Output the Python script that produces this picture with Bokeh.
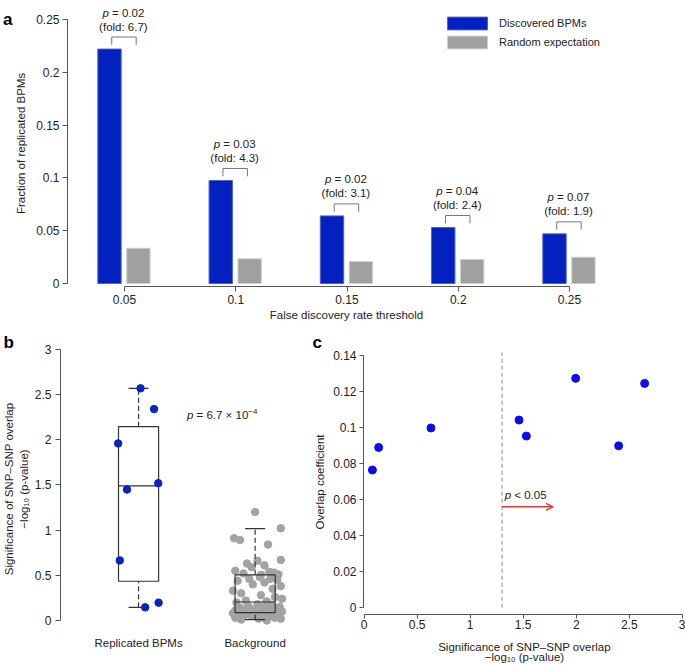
from math import log10

from bokeh.plotting import figure
from bokeh.models import (ColumnDataSource, Range1d, FixedTicker, Legend, LegendItem,
                          Label, Arrow, OpenHead, LinearAxis, Title)
from bokeh.layouts import column, row
from bokeh.transform import dodge
from bokeh.embed import file_html
from bokeh.resources import INLINE
from bokeh.core.properties import value

FONT = "Liberation Sans"

# ---------------- data: panel a ----------------
thresholds = ["0.05", "0.1", "0.15", "0.2", "0.25"]
discovered = [0.222, 0.0975, 0.064, 0.053, 0.047]
random_expectation = [0.0334, 0.0234, 0.0208, 0.0227, 0.0249]
p_values_a = ["0.02", "0.03", "0.02", "0.04", "0.07"]
fold_changes = ["6.7", "4.3", "3.1", "2.4", "1.9"]
ya_ticks = [0, 0.05, 0.1, 0.15, 0.2, 0.25]
ya_labels = ["0", "0.05", "0.1", "0.15", "0.2", "0.25"]

# ---------------- data: panel b ----------------
groups = ["Replicated BPMs", "Background"]
replicated_sig = [2.57, 2.34, 1.96, 1.45, 1.52, 0.665, 0.145, 0.197]
replicated_jitter = [0.017, 0.133, -0.175, -0.099, 0.169, -0.161, 0.057, 0.172]
background_sig = [1.20, 1.02, 0.91, 0.89, 0.84, 0.67, 0.66, 0.63, 0.61, 0.59, 0.55, 0.54, 0.53, 0.52, 0.51, 0.505,
                  0.48, 0.46, 0.46, 0.45, 0.44, 0.42, 0.40, 0.38, 0.35, 0.33, 0.30, 0.28, 0.26, 0.24, 0.22, 0.21,
                  0.20, 0.19, 0.18, 0.17, 0.16, 0.15, 0.14, 0.13, 0.13, 0.12, 0.11, 0.11, 0.10, 0.10, 0.09, 0.09,
                  0.08, 0.08, 0.07, 0.07, 0.06, 0.06, 0.05, 0.05, 0.04, 0.04, 0.03, 0.03, 0.02, 0.02, 0.01, 0.00]
background_jitter = [0.00, 0.22, -0.18, -0.13, 0.11, 0.22, 0.02, -0.07, 0.08, -0.03, -0.17, 0.12, 0.16, -0.10, 0.20, 0.05,
                     0.04, -0.05, 0.13, 0.19, -0.15, 0.08, -0.02, 0.22, 0.15, -0.19, -0.12, 0.05, 0.17, 0.23, -0.08, 0.10,
                     -0.16, 0.09, 0.02, 0.14, -0.06, 0.21, -0.13, 0.06, 0.17, -0.02, 0.11, -0.17, 0.23, -0.09, 0.03, 0.19,
                     -0.19, 0.15, -0.14, 0.08, 0.20, -0.04, 0.00, 0.13, -0.10, 0.06, 0.17, -0.17, 0.03, 0.22, -0.12, 0.10]
box_lo = [0.145, 0.008]
box_q1 = [0.434, 0.086]
box_median = [1.489, 0.204]
box_q3 = [2.146, 0.505]
box_hi = [2.57, 1.017]
p_value_b = ("6.7", "\u22124")
yb_ticks = [0, 0.5, 1, 1.5, 2, 2.5, 3]
yb_labels = ["0", "0.5", "1", "1.5", "2", "2.5", "3"]

# ---------------- data: panel c ----------------
significance_c = [0.079, 0.138, 0.631, 1.461, 1.530, 1.995, 2.400, 2.645]
overlap_coefficient = [0.0764, 0.0889, 0.0997, 0.1041, 0.0952, 0.1272, 0.0898, 0.1244]
p_threshold = 0.05
xc_ticks = [0, 0.5, 1, 1.5, 2, 2.5, 3]
xc_labels = ["0", "0.5", "1", "1.5", "2", "2.5", "3"]
yc_ticks = [0, 0.02, 0.04, 0.06, 0.08, 0.1, 0.12, 0.14]
yc_labels = ["0", "0.02", "0.04", "0.06", "0.08", "0.1", "0.12", "0.14"]

SIG_TITLE = "Significance of SNP\u2013SNP overlap\n\u2212log\u2081\u2080 (p-value)"

# ---------------- helpers ----------------
AW = {' ': 278, '(': 333, ')': 333, '-': 333, '\u2212': 584, '=': 584, '\u00d7': 584, '<': 584,
      '.': 278, ':': 278, 'p': 556, 'l': 222, 'o': 556, 'g': 556, 'v': 500, 'a': 556, 'u': 556,
      'e': 556, 'f': 278, 'd': 556, 'i': 222, 'c': 500, 's': 500, 'r': 333, 'n': 556, 't': 278}


def tw(s, size):
    return sum(AW.get(ch, 556) for ch in s) * size / 1000.0


AX = "#555555"
TXT = "#222222"


def style_axis(ax, tick_out=5, standoff=3):
    ax.axis_line_color = AX
    ax.major_tick_line_color = AX
    ax.major_tick_in = 0
    ax.major_tick_out = tick_out
    ax.minor_tick_line_color = None
    ax.major_label_text_font = FONT
    ax.major_label_text_font_size = "12px"
    ax.major_label_text_color = TXT
    ax.major_label_standoff = standoff
    ax.axis_label_text_font = FONT
    ax.axis_label_text_font_size = "11.5px"
    ax.axis_label_text_font_style = "normal"
    ax.axis_label_text_color = TXT


def base_fig(w, h, xr, yr, left, bottom, right=0):
    f = figure(width=w, height=h, x_range=Range1d(*xr), y_range=Range1d(*yr),
               output_backend="svg", toolbar_location=None,
               min_border_left=left, min_border_right=right, min_border_top=0,
               min_border_bottom=bottom, frame_align=False)
    f.grid.visible = False
    f.outline_line_color = None
    f.background_fill_color = "white"
    f.border_fill_color = "white"
    return f


def letter_title(f, txt, offset):
    f.add_layout(Title(text=txt, align="left", offset=offset, standoff=-5, text_font=FONT,
                       text_font_size="17px", text_font_style="bold", text_color="black"), "above")


# ================= panel a =================
HA = 333
pa = base_fig(685, HA, (0.4876, 5.503), (-0.00284, 0.268), 67, 47, right=60)
cat_x = [i + 1 for i in range(len(thresholds))]
src_a = ColumnDataSource(dict(x=cat_x, disc=discovered, rnd=random_expectation))
BLUE_A = "#0321BF"
r_disc = pa.vbar(x=dodge("x", -0.135), top="disc", bottom=0, width=0.21, source=src_a,
                 fill_color=BLUE_A, line_color="#4A62D6", line_width=1)
r_rand = pa.vbar(x=dodge("x", 0.125), top="rnd", bottom=0, width=0.21, source=src_a,
                 fill_color="#A0A0A0", line_color="#CFCFCF", line_width=1)

# brackets
br_xs, br_ys = [], []
for c, d in zip(cat_x, discovered):
    br_xs.append([c - 0.115, c - 0.115, c + 0.105, c + 0.105])
    br_ys.append([d + 0.0040, d + 0.0114, d + 0.0114, d + 0.0040])
pa.multi_line(xs=br_xs, ys=br_ys, line_color="#777777", line_width=1)

FS_A = 11.5
ann = dict(tx=[], ty=[], p_off=[], rest=[], rest_off=[], fold=[])
for c, d, pv, fc in zip(cat_x, discovered, p_values_a, fold_changes):
    rest = "= " + pv
    total = tw("p ", FS_A) + tw(rest, FS_A)
    ann["tx"].append(c - 0.01)
    ann["ty"].append(d + 0.0114)
    ann["p_off"].append(-total / 2)
    ann["rest"].append(rest)
    ann["rest_off"].append(-total / 2 + tw("p ", FS_A))
    ann["fold"].append("(fold: " + fc + ")")
src_ann = ColumnDataSource(ann)
common_t = dict(text_font=value(FONT), text_font_size="11.5px", text_color=TXT, text_baseline="middle")
pa.text(x="tx", y="ty", text="fold", source=src_ann, y_offset=-10.5, text_align="center", **common_t)
pa.text(x="tx", y="ty", text=value("p"), source=src_ann, x_offset="p_off", y_offset=-24.5,
        text_align="left", text_font_style="italic", **common_t)
pa.text(x="tx", y="ty", text="rest", source=src_ann, x_offset="rest_off", y_offset=-24.5,
        text_align="left", **common_t)

xa = pa.xaxis[0]
style_axis(xa, 5, 3)
xa.ticker = FixedTicker(ticks=cat_x)
xa.major_label_overrides = {c: t for c, t in zip(cat_x, thresholds)}
xa.bounds = (cat_x[0], cat_x[-1])
xa.axis_label = "False discovery rate threshold"
xa.axis_label_standoff = 2
ya = pa.yaxis[0]
style_axis(ya, 5, 3)
ya.ticker = FixedTicker(ticks=ya_ticks)
ya.major_label_overrides = {t: l for t, l in zip(ya_ticks, ya_labels)}
ya.bounds = (ya_ticks[0], ya_ticks[-1])
ya.axis_label = "Fraction of replicated BPMs"
ya.axis_label_standoff = 6

# panel letter "a": an unlined extra left axis carrying a single label
Y_LETTER_A = 0.2678
letter_axis = LinearAxis(ticker=FixedTicker(ticks=[Y_LETTER_A]), major_label_overrides={Y_LETTER_A: "a"},
                         axis_line_color=None, major_tick_line_color=None, minor_tick_line_color=None,
                         major_tick_in=0, major_tick_out=0, major_label_standoff=0,
                         major_label_text_font=FONT, major_label_text_font_size="17px",
                         major_label_text_font_style="bold", major_label_text_color="black")
pa.add_layout(letter_axis, "left")

legend = Legend(items=[LegendItem(label="Discovered BPMs", renderers=[r_disc]),
                       LegendItem(label="Random expectation", renderers=[r_rand])],
                location=(375, 236), glyph_width=50, glyph_height=16, label_height=16,
                label_text_font=FONT, label_text_font_size="11px", label_text_color=TXT,
                label_standoff=7, spacing=3, padding=0, margin=0,
                border_line_color=None, background_fill_alpha=0)
pa.add_layout(legend)

# ================= panel b =================
HB = 332
pb = base_fig(305, HB, (0.3305, 2.432), (-0.0892, 3.0), 57, 37)
letter_title(pb, "b", -57)
box_x = [1, 2]
bg_x = [2 + j for j in background_jitter]
pb.scatter(x=bg_x, y=background_sig, size=7.5, fill_color="#A3A3A3", line_color="#A3A3A3")
half_w = 0.172
pb.quad(left=[c - half_w for c in box_x], right=[c + half_w for c in box_x],
        bottom=box_q1, top=box_q3, fill_color=None, line_color="#333333", line_width=1.2)
pb.segment(x0=[c - half_w for c in box_x], x1=[c + half_w for c in box_x],
           y0=box_median, y1=box_median, line_color="#333333", line_width=1.2)
pb.segment(x0=box_x, x1=box_x, y0=box_q3, y1=box_hi, line_color="#333333", line_width=1.2, line_dash="5 3")
pb.segment(x0=box_x, x1=box_x, y0=box_lo, y1=box_q1, line_color="#333333", line_width=1.2, line_dash="5 3")
pb.segment(x0=[c - half_w / 2 for c in box_x], x1=[c + half_w / 2 for c in box_x],
           y0=box_hi, y1=box_hi, line_color="#333333", line_width=1.2)
pb.segment(x0=[c - half_w / 2 for c in box_x], x1=[c + half_w / 2 for c in box_x],
           y0=box_lo, y1=box_lo, line_color="#333333", line_width=1.2)
rep_x = [1 + j for j in replicated_jitter]
pb.scatter(x=rep_x, y=replicated_sig, size=7.5, fill_color="#0A24C4", line_color="#0A24C4")

xb = pb.xaxis[0]
style_axis(xb, 0, 8)
xb.axis_line_color = None
xb.major_tick_line_color = None
xb.ticker = FixedTicker(ticks=box_x)
xb.major_label_overrides = {c: g for c, g in zip(box_x, groups)}
xb.major_label_text_font_size = "11.5px"
yb = pb.yaxis[0]
style_axis(yb, 5, 4)
yb.ticker = FixedTicker(ticks=yb_ticks)
yb.major_label_overrides = {t: l for t, l in zip(yb_ticks, yb_labels)}
yb.bounds = (yb_ticks[0], yb_ticks[-1])
yb.axis_label = SIG_TITLE
yb.axis_label_standoff = 2

lab_kw = dict(text_font=FONT, text_font_size="11.5px", text_color=TXT, text_baseline="middle")
# p-value annotation in panel b
pb_x, pb_y = 1.415, 2.27
off = 0
for t, s, dy, st in [("p", 11.5, 0, "italic"), ("= " + p_value_b[0] + " \u00d7 10", 11.5, 0, "normal"),
                     (p_value_b[1], 8, 4, "normal")]:
    pb.add_layout(Label(x=pb_x, y=pb_y, x_offset=off, y_offset=dy, text=t, text_font=FONT,
                        text_font_size=f"{s}px", text_font_style=st, text_color=TXT,
                        text_align="left", text_baseline="middle"))
    off += tw(t + (" " if t == "p" else ""), s)

# ================= panel c =================
pc = base_fig(380, HB, (-0.005, 3.03), (-0.00368, 0.14318), 58, 51)
letter_title(pc, "c", -51)
thr_x = -log10(p_threshold)
pc.segment(x0=[thr_x], x1=[thr_x], y0=[yc_ticks[0]], y1=[yc_ticks[-1] + 0.0015],
           line_color="#9A9A9A", line_width=1.2, line_dash="4 3")
arrow_y = 0.056
pc.add_layout(Arrow(x_start=thr_x, y_start=arrow_y, x_end=thr_x + 0.48, y_end=arrow_y,
                    line_color="#E53935", line_width=1.5,
                    end=OpenHead(size=7, line_color="#E53935", line_width=1.5)))
pc.add_layout(Label(x=thr_x + 0.025, y=arrow_y + 0.0068, text="p", text_font_style="italic", text_align="left",
                    **lab_kw))
pc.add_layout(Label(x=thr_x + 0.025, y=arrow_y + 0.0068, x_offset=tw("p ", 11.5), text="< 0.05",
                    text_align="left", **lab_kw))
pc.scatter(x=significance_c, y=overlap_coefficient, size=8, fill_color="#0B0BEF", line_color="#0B0BEF")

xc = pc.xaxis[0]
style_axis(xc, 4, 1)
xc.ticker = FixedTicker(ticks=xc_ticks)
xc.major_label_overrides = {t: l for t, l in zip(xc_ticks, xc_labels)}
xc.bounds = (xc_ticks[0], xc_ticks[-1])
xc.axis_label = SIG_TITLE
xc.axis_label_standoff = 9
xc.axis_label_text_line_height = 0.85
yc = pc.yaxis[0]
style_axis(yc, 4, 3)
yc.ticker = FixedTicker(ticks=yc_ticks)
yc.major_label_overrides = {t: l for t, l in zip(yc_ticks, yc_labels)}
yc.bounds = (yc_ticks[0], yc_ticks[-1])
yc.axis_label = "Overlap coefficient"
yc.axis_label_standoff = 4

layout = column(pa, row(pb, pc))
open("out.html", "w").write(file_html(layout, INLINE))
